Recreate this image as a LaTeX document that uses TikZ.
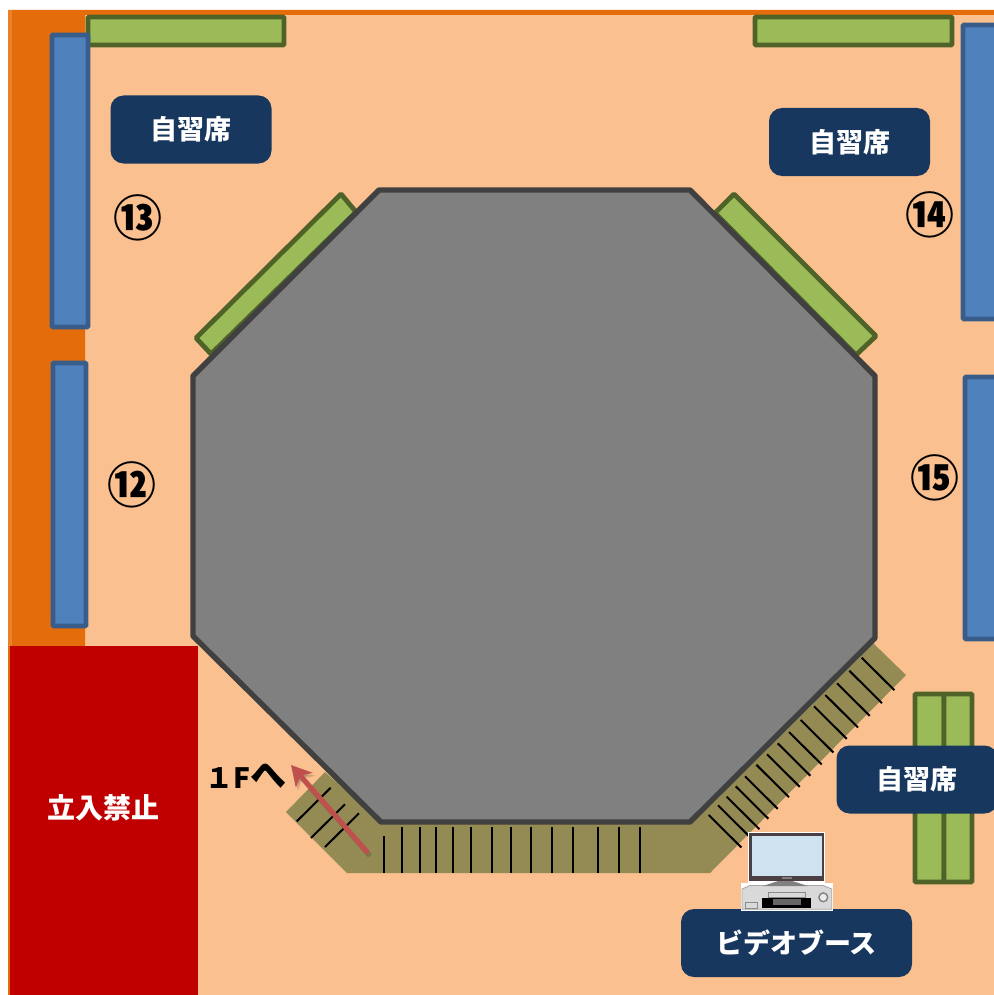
\documentclass[tikz,border=0pt]{standalone}
\usepackage{fontspec}
\setmainfont{Noto Sans CJK JP}
\usetikzlibrary{arrows.meta}

\definecolor{floorpeach}{HTML}{FBC08F}
\definecolor{wallorange}{HTML}{E46C0A}
\definecolor{wallstrip}{HTML}{EA8227}
\definecolor{shelfblue}{HTML}{4F81BD}
\definecolor{shelfblueline}{HTML}{385D8A}
\definecolor{deskgreen}{HTML}{9BBB59}
\definecolor{deskgreenline}{HTML}{4F6228}
\definecolor{labelnavy}{HTML}{17375E}
\definecolor{closedred}{HTML}{C00000}
\definecolor{stairolive}{HTML}{948A54}
\definecolor{arrowred}{HTML}{C0504D}
\definecolor{tvframe}{HTML}{4A3F42}
\definecolor{tvscreen}{HTML}{CFE2F0}

\tikzset{
	shelf/.style={fill=shelfblue, draw=shelfblueline, line width=2.4pt, rounded corners=0.5pt},
	desk/.style={fill=deskgreen, draw=deskgreenline, line width=2.4pt, rounded corners=0.5pt},
	tread/.style={line width=1pt, black},
	roomlabel/.style={fill=labelnavy, rounded corners=6.5pt, text=white, font=\bfseries\fontsize{13.5}{16}\selectfont, anchor=center, inner sep=0pt},
	seatnumber/.style={font=\bfseries\fontsize{24.5}{27}\selectfont, inner sep=0pt}
}

\begin{document}
\begin{tikzpicture}[x=0.5pt, y=-0.5pt]
	\useasboundingbox (0, 0) rectangle (994, 995);
	% floor and walls
	\fill[floorpeach] (8, 10) rectangle (994, 995);
	\fill[wallorange] (8, 10) -- (994, 10) -- (994, 15) -- (85, 15) -- (85, 646) -- (10, 646) -- (10, 995) -- (8, 995) -- cycle;
	\fill[wallstrip] (8, 10) rectangle (12, 646);
	\fill[closedred] (10, 646) rectangle (198, 995);

	% desks along the walls
	\draw[desk] (88, 17) rectangle (284, 45);
	\draw[desk] (755, 17) rectangle (952, 45);
	\draw[desk] (341, 194) -- (356, 212) -- (211, 354) -- (196, 338) -- cycle;
	\draw[desk] (734, 194) -- (876, 336) -- (856, 355) -- (715, 213) -- cycle;
	\draw[desk] (915, 694) rectangle (944, 882);
	\draw[desk] (944, 694) rectangle (972, 882);

	% shelves
	\draw[shelf] (52, 35) rectangle (88, 327);
	\draw[shelf] (53, 363) rectangle (86, 626);
	\draw[shelf] (963, 25) rectangle (1000, 319);
	\draw[shelf] (965, 377) rectangle (1000, 639);

	% stairs, then the hall on top of them
	\fill[stairolive] (325, 772) -- (286, 812) -- (347, 873) -- (710, 873) -- (906, 675) -- (872, 642) -- (690, 822) -- (381, 822) -- cycle;
	\foreach \x in {402, 419.7, 435.7, 453.3, 471, 492, 511.3, 531, 552, 573, 598, 619, 640.3}
		\draw[tread] (\x, 827) -- (\x, 873);
	\draw[tread] (384.3, 836) -- (384.3, 873);
	\foreach \x/\y in {861.7/657.7, 849.3/670.7, 837/683.3, 825.3/695, 814/706.3, 800.7/720, 789/732, 777.7/743.3, 767/754.3, 756.3/764.7, 745/776.3, 735.7/786.3, 726.7/796.7, 718/805.3, 708.7/815}
		\draw[tread] (\x, \y) -- ++(32.7, 32.5);
	\foreach \x/\y in {330.7/787.7, 345/804.3, 359/813.3}
		\draw[tread] (\x, \y) -- ++(-34, 33.7);
	\draw[fill=black!50, draw=black!75, line width=2.7pt, line join=round] (379, 190) -- (690, 190) -- (875, 376) -- (875, 638) -- (690, 822) -- (381, 822) -- (193, 636) -- (193, 376) -- cycle;

	% labels
	\node[roomlabel, minimum width=80.5pt, minimum height=34pt] (selfstudytl) at (191, 129.5) {自習席};
	\node[roomlabel, minimum width=80.5pt, minimum height=34pt] (selfstudytr) at (849.5, 142) {自習席};
	\node[roomlabel, minimum width=80.5pt, minimum height=34pt] (selfstudybr) at (917, 779.5) {自習席};
	\node[roomlabel, minimum width=115.5pt, minimum height=34pt] (videobooth) at (796.5, 943) {ビデオブース};
	\node[text=white, font=\bfseries\fontsize{14}{16}\selectfont] (closedarea) at (103, 808) {立入禁止};
	\node[seatnumber] (seat12) at (132, 485) {⑫};
	\node[seatnumber] (seat13) at (138, 218) {⑬};
	\node[seatnumber] (seat14) at (930, 215) {⑭};
	\node[seatnumber] (seat15) at (935, 478) {⑮};
	\node[font=\bfseries\fontsize{14}{16}\selectfont, inner sep=0pt] (tofirst) at (246, 776) {１F{\fontsize{18}{16}\selectfont へ}};

	% video booth set
	\fill[white] (748.3, 832.3) rectangle (825, 883);
	\fill[tvframe] (749.3, 833.3) rectangle (824, 881);
	\fill[tvscreen] (752, 836) rectangle (822.3, 876);
	\fill[black!50] (781.7, 877) rectangle (791.7, 879.3);
	\fill[white] (741, 883) rectangle (832.7, 910.7);
	\fill[black!15, draw=black!35, line width=0.4pt] (742, 889) -- (750, 885.5) -- (823.3, 885.5) -- (831.7, 889) -- (831.7, 909.3) -- (742, 909.3) -- cycle;
	\fill[black!50] (778, 881) -- (792, 881) -- (808, 886) -- (763, 886) -- cycle;
	\fill[black] (762, 897.7) rectangle (811, 907.7);
	\fill[black!60] (773, 899.3) rectangle (800.7, 905);
	\draw[black!45, line width=0.3pt] (768.3, 892.3) rectangle (805.7, 897.3);
	\draw[black!45, line width=0.3pt] (745.3, 902.3) rectangle (757.7, 908);
	\draw[black!50, fill=black!8, line width=0.7pt] (823.3, 897.3) circle (4.4);

	% way down
	\coordinate (stairfoot) at (368, 853);
	\coordinate (stairtop) at (291, 765);
	\draw[black, opacity=0.15, line width=2.5pt, -{Stealth[length=10pt, width=11pt, inset=3pt]}] ([shift={(2, 3)}]stairfoot) -- ([shift={(2, 3)}]stairtop);
	\draw[arrowred, line width=2.5pt, -{Stealth[length=10pt, width=11pt, inset=3pt]}] (stairfoot) -- (stairtop);
\end{tikzpicture}
\end{document}
